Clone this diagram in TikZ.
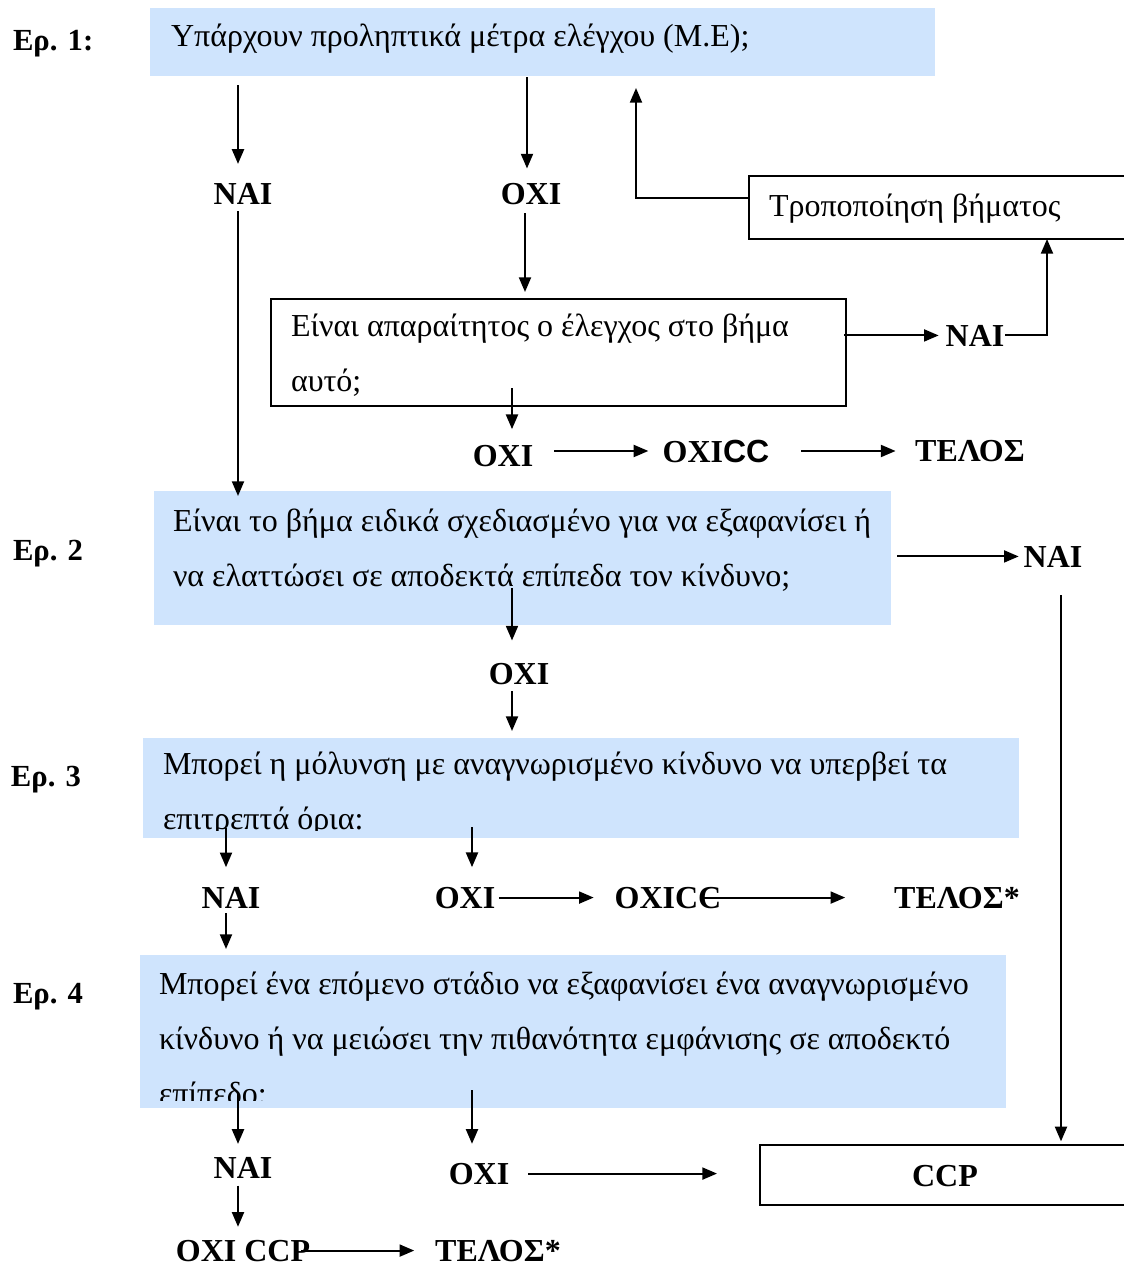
\documentclass[tikz,border=0pt]{standalone}
\usepackage{fontspec}
\setmainfont{Liberation Serif}
\newfontfamily\arialfont{Liberation Sans}
\usetikzlibrary{arrows.meta,fit}

\definecolor{qblue}{RGB}{207,228,253}

\tikzset{every picture/.style={line width=1.5pt}}

\begin{document}
\begin{tikzpicture}[x=0.75pt,y=0.75pt,yscale=-1,xscale=1,
	arr/.style={-{Triangle[length=11pt,width=9pt]}},
	qbox/.style={fill=qblue, inner sep=0pt},
	wbox/.style={draw, inner sep=0pt},
	qtext/.style={anchor=base west, inner sep=0pt, align=left, font=\fontsize{24}{41}\selectfont},
	lbl/.style={anchor=base, inner sep=0pt, font=\bfseries\fontsize{24}{28}\selectfont},
	eplbl/.style={anchor=base west, inner sep=0pt, font=\bfseries\fontsize{23}{27}\selectfont}]
	\useasboundingbox (0,0) rectangle (1124,1267);

	% Ep. 1
	\node[eplbl] (ep1) at (12,50) {Ερ. 1:};
	\node[qbox, fit={(150,8) (935,76)}] (q1) {};
	\node[qtext] (t1) at (170,46) {Υπάρχουν προληπτικά μέτρα ελέγχου (Μ.Ε);};
	\node[lbl] (nai1) at (243,204) {ΝΑΙ};
	\node[lbl] (oxi1) at (531,204) {ΟΧΙ};
	\node[wbox, fit={(749,176) (1140,239)}] (mod) {};
	\node[qtext] (t2) at (768,216) {Τροποποίηση βήματος};
	\node[wbox, fit={(271,299) (846,406)}] (chk) {};
	\node[qtext] (t3) at (290,391) {Είναι απαραίτητος ο έλεγχος στο βήμα\\αυτό;};
	\node[lbl] (nai2) at (975,346) {ΝΑΙ};
	\node[lbl] (oxi2) at (503,466) {ΟΧΙ};
	\node[lbl] (oxicc1) at (716,462) {ΟΧΙ{\arialfont CC}};
	\node[lbl] (telos1) at (970,461) {ΤΕΛΟΣ};

	% Ep. 2
	\node[eplbl] (ep2) at (12,560) {Ερ. 2};
	\node[qbox, fit={(154,491) (891,625)}] (q2) {};
	\node[qtext] (t4) at (172,586) {Είναι το βήμα ειδικά σχεδιασμένο για να εξαφανίσει ή\\να ελαττώσει σε αποδεκτά επίπεδα τον κίνδυνο;};
	\node[lbl] (nai3) at (1053,567) {ΝΑΙ};
	\node[lbl] (oxi3) at (519,684) {ΟΧΙ};

	% Ep. 3
	\node[eplbl] (ep3) at (10,786) {Ερ. 3};
	\node[qbox, fit={(143,738) (1019,838)}] (q3) {};
	\begin{scope}
		\clip (143,738) rectangle (1019,830);
		\node[qtext] (t5) at (162,829) {Μπορεί η μόλυνση με αναγνωρισμένο κίνδυνο να υπερβεί τα\\επιτρεπτά όρια:};
	\end{scope}
	\node[lbl] (nai4) at (231,908) {ΝΑΙ};
	\node[lbl] (oxi4) at (465,908) {ΟΧΙ};
	\node[lbl] (oxicc2) at (668,908) {ΟΧΙCC};
	\node[lbl] (telos2) at (957,908) {ΤΕΛΟΣ*};

	% Ep. 4
	\node[eplbl] (ep4) at (12,1003) {Ερ. 4};
	\node[qbox, fit={(140,955) (1006,1108)}] (q4) {};
	\begin{scope}
		\clip (140,955) rectangle (1006,1100);
		\node[qtext] (t6) at (158,1104) {Μπορεί ένα επόμενο στάδιο να εξαφανίσει ένα αναγνωρισμένο\\κίνδυνο ή να μειώσει την πιθανότητα εμφάνισης σε αποδεκτό\\επίπεδο;};
	\end{scope}
	\node[lbl] (nai5) at (243,1178) {ΝΑΙ};
	\node[lbl] (oxi5) at (479,1184) {ΟΧΙ};
	\node[wbox, fit={(760,1145) (1140,1205)}] (ccp) {};
	\node[lbl] (ccpt) at (945,1186) {CCP};
	\node[lbl] (oxiccp) at (243,1261) {ΟΧΙ CCP};
	\node[lbl] (telos3) at (498,1261) {ΤΕΛΟΣ*};

	\coordinate (up1) at (636,76);
	\coordinate (up2) at (1047,239);
	\coordinate (s1) at (512,388);
	\coordinate (r1) at (1061,595);
	\coordinate (s2) at (512,588);
	\coordinate (s3) at (226,828);
	\coordinate (s4) at (472,827);
	\coordinate (s5) at (238,1092);
	\coordinate (s6) at (472,1090);

	% arrows Ep. 1
	\draw[arr, shorten <=6pt, shorten >=13.5pt] (q1.south -| 238,0) -- (nai1.north -| 238,0);
	\draw[arr, shorten >=10pt] (q1.south -| 527,0) -- (oxi1.north -| 527,0);
	\draw[arr, shorten <=4.5pt, shorten >=-4.5pt] (nai1.south -| 238,0) -- (q2.north -| 238,0);
	\draw[arr, shorten <=6pt, shorten >=4.5pt] (oxi1.south -| 525,0) -- (chk.north -| 525,0);
	\draw[arr, shorten >=9pt] ([yshift=-7.5pt]mod.west) -| (up1);
	\draw[arr, shorten <=-2pt, shorten >=4.5pt] (chk.east |- nai2) -- (nai2.west);
	\draw[arr] (nai2.east) -| (up2);
	\draw[arr, shorten >=11pt] (s1) -- (s1 |- oxi2.north);
	\draw[arr, shorten <=15pt, shorten >=10pt] (oxi2.east |- oxicc1.west) -- (oxicc1.west);
	\draw[arr, shorten <=23pt, shorten >=14pt] (oxicc1.east) -- (telos1.west |- oxicc1.east);

	% arrows Ep. 2
	\draw[arr, shorten <=4pt, shorten >=3pt] (q2.east |- nai3) -- (nai3.west);
	\draw[arr, shorten >=2pt] (r1) -- (r1 |- ccp.north);
	\draw[arr, shorten >=16pt] (s2) -- (s2 |- oxi3.north);
	\draw[arr, shorten <=4.5pt, shorten >=4.5pt] (oxi3.south -| s2) -- (q3.north -| s2);

	% arrows Ep. 3
	\draw[arr, shorten >=14pt] (s3) -- (s3 |- nai4.north);
	\draw[arr, shorten >=14pt] (s4) -- (s4 |- oxi4.north);
	\draw[arr, shorten <=2pt, shorten >=15pt] (oxi4.east) -- (oxicc2.west);
	\draw[arr, shorten <=-16pt, shorten >=36pt] (oxicc2.east) -- (telos2.west);
	\draw[arr, shorten <=3pt, shorten >=3.75pt] (nai4.south -| s3) -- (q4.north -| s3);

	% arrows Ep. 4
	\draw[arr, shorten >=9pt] (s5) -- (s5 |- nai5.north);
	\draw[arr, shorten <=5pt, shorten >=9pt] (nai5.south -| s5) -- (s5 |- oxiccp.north);
	\draw[arr, shorten <=-7.5pt, shorten >=15pt] (oxiccp.east) -- (telos3.west);
	\draw[arr, shorten >=13.5pt] (s6) -- (s6 |- oxi5.north);
	\draw[arr, shorten <=13.5pt, shorten >=31.5pt] (oxi5.east) -- (ccp.west |- oxi5);
\end{tikzpicture}
\end{document}
